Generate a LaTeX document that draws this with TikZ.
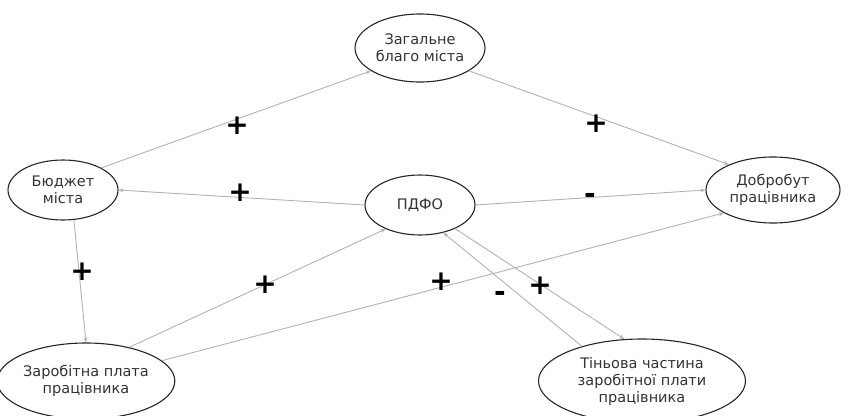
\documentclass[tikz,border=0pt]{standalone}
\usepackage{fontspec}
\setmainfont{DejaVu Sans}
\usetikzlibrary{shapes.geometric,arrows.meta}
\begin{document}
\begin{tikzpicture}[x=1pt,y=-1pt,
  ell/.style={ellipse,draw=black!85,line width=1.1pt,fill=white,inner sep=0pt,align=center,font=\fontsize{14.5}{17}\selectfont,text=black!80},
  conn/.style={draw=black!30,line width=0.9pt,-{Stealth[length=5pt,width=4pt]}},
  sgn/.style={font=\bfseries\fontsize{28}{28}\selectfont,text=black}
]
\useasboundingbox (0,0) rectangle (845,415);
\node[ell,minimum width=130,minimum height=68] (zag) at (420,48) {Загальне\\благо міста};
\node[ell,minimum width=110,minimum height=60] (bud) at (63,190) {Бюджет\\міста};
\node[ell,minimum width=110,minimum height=60] (pdfo) at (420,205) {ПДФО};
\node[ell,minimum width=134,minimum height=66] (dob) at (773,190) {Добробут\\працівника};
\node[ell,minimum width=174,minimum height=76] (zar) at (86,381) {Заробітна плата\\працівника};
\node[ell,minimum width=207,minimum height=84] (tin) at (642,381) {Тіньова частина\\заробітної плати\\працівника};

\draw[conn] (bud.30) -- (zag.205);
\draw[conn] (zag.335) -- (dob.150);
\draw[conn] (pdfo.west) -- (bud.east);
\draw[conn] (pdfo.east) -- (dob.west);
\draw[conn] (bud.290) -- (zar.north);
\draw[conn] (zar.38) -- (pdfo.215);
\draw[conn] (zar.15) -- (dob.205);
\draw[conn] (tin.150) -- (pdfo.310);
\draw[conn] (pdfo.326) -- (tin.113);

\node[sgn] (s1) at (237,126) {+};
\node[sgn] (s2) at (596,124) {+};
\node[sgn] (s3) at (240,193) {+};
\node[sgn] (s4) at (590,198) {-};
\node[sgn] (s5) at (82,272) {+};
\node[sgn] (s6) at (265,285) {+};
\node[sgn] (s7) at (441,282) {+};
\node[sgn] (s8) at (500,296) {-};
\node[sgn] (s9) at (540,286) {+};
\end{tikzpicture}
\end{document}
